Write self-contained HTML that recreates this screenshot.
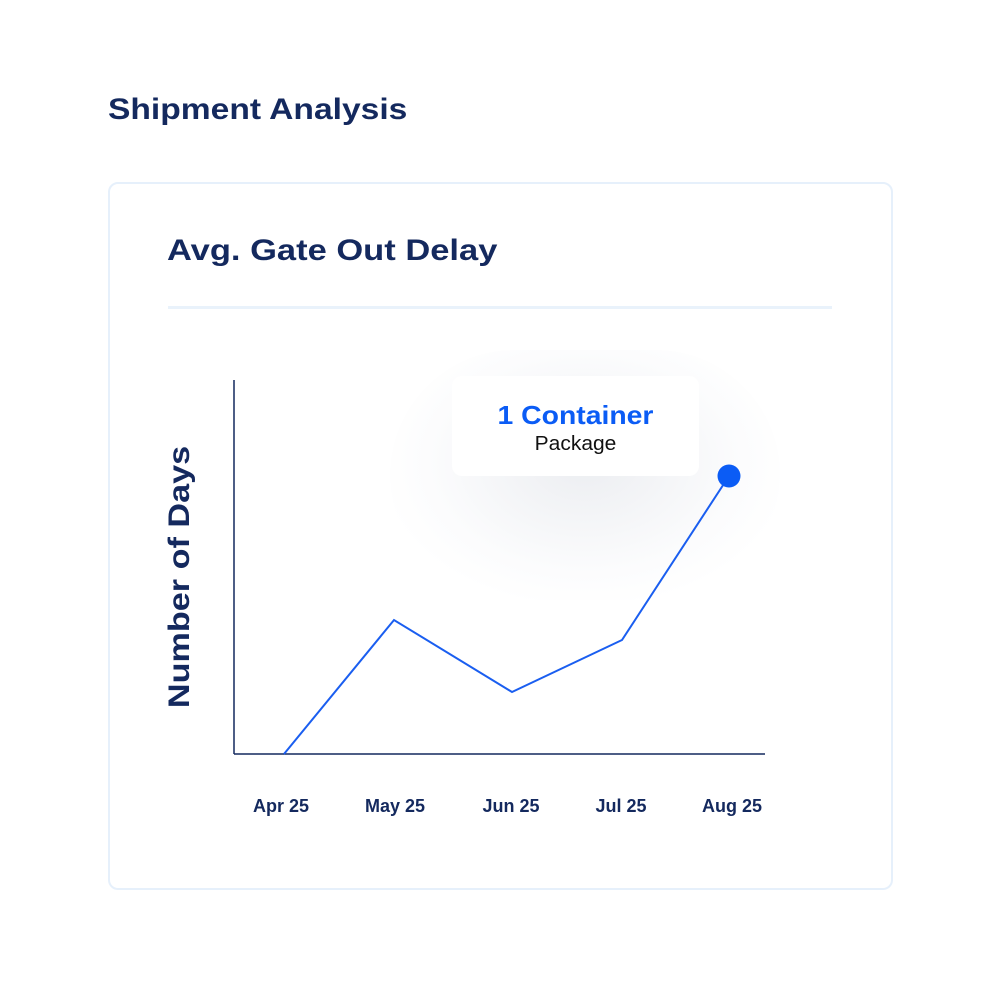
<!DOCTYPE html>
<html><head><style>
body{margin:0;width:1000px;height:982px;background:#fff;font-family:"Liberation Sans",sans-serif;position:relative;overflow:hidden}
.t{position:absolute;color:#14295e;font-weight:bold;white-space:nowrap;transform-origin:0 0}
.card{position:absolute;left:108px;top:182px;width:781px;height:704px;border:2px solid #e6f0fb;border-radius:10px}
.div{position:absolute;left:168px;top:306px;width:664px;height:3px;background:#e9f2fb}
.glow{position:absolute;left:390px;top:350px;width:390px;height:250px;border-radius:130px;background:radial-gradient(ellipse at 50% 45%,rgba(200,205,215,.35),rgba(230,233,240,.15) 55%,rgba(255,255,255,0) 75%)}
.tip{position:absolute;left:452px;top:376px;width:247px;height:100px;background:#fff;border-radius:10px;text-align:center}
.xl{position:absolute;top:796px;font-size:18px;color:#14295e;font-weight:bold;width:100px;text-align:center}
</style></head><body>
<div class="t" style="left:108px;top:93px;font-size:30px;transform:scaleX(1.12)">Shipment Analysis</div>
<div class="card"></div>
<div class="t" style="left:167px;top:234px;font-size:30px;transform:scaleX(1.15)">Avg. Gate Out Delay</div>
<div class="div"></div>
<div class="glow"></div>
<svg style="position:absolute;left:0;top:0" width="1000" height="982">
<line x1="234" y1="380" x2="234" y2="754" stroke="#14295e" stroke-width="1.5"/>
<line x1="234" y1="754" x2="765" y2="754" stroke="#14295e" stroke-width="1.5"/>
<polyline points="284,754 394,620 512,692 622,640 729,476" fill="none" stroke="#1a5ef0" stroke-width="2"/>
<circle cx="729" cy="476" r="11.5" fill="#0b5cf5"/>
</svg>
<div class="tip">
<div style="margin-top:24px;font-size:26px;font-weight:bold;color:#0b5cf5;transform:scaleX(1.09)">1 Container</div>
<div style="margin-top:2px;font-size:20px;color:#111;transform:scaleX(1.05)">Package</div>
</div>
<div class="t" style="left:180px;top:577px;font-size:30px;transform-origin:50% 50%;transform:translate(-50%,-50%) rotate(-90deg) scaleX(1.14)">Number of Days</div>
<div class="xl" style="left:231px">Apr 25</div>
<div class="xl" style="left:345px">May 25</div>
<div class="xl" style="left:461px">Jun 25</div>
<div class="xl" style="left:571px">Jul 25</div>
<div class="xl" style="left:682px">Aug 25</div>
</body></html>
